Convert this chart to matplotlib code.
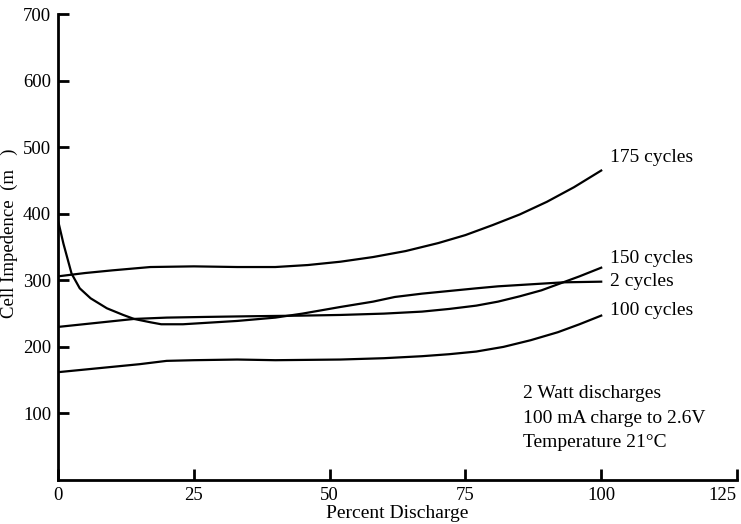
#!/usr/bin/env python3
"""Cell impedance vs percent discharge for several cycle counts."""

import matplotlib

matplotlib.use("Agg")
import matplotlib.pyplot as plt

# percent discharge / impedance
x_175 = [0, 5, 10, 17, 25, 33, 40, 46, 52, 58, 64, 70, 75, 80, 85, 90, 95, 100]
y_175 = [306, 311, 315, 320, 321, 320, 320, 323, 328, 335, 344, 356, 368, 383, 399, 418, 440, 465]

x_150 = [0, 7, 14, 20, 27, 35, 45, 52, 60, 67, 72, 77, 81, 85, 89, 93, 96, 100]
y_150 = [230, 236, 242, 244, 245, 246, 247, 248, 250, 253, 257, 262, 268, 276, 285, 297, 306, 319]

x_2 = [0, 1, 2.5, 4, 6, 9, 12, 14, 17, 19, 23, 27, 33, 40, 45, 52, 58, 62, 67, 72, 77, 81, 87, 93, 100]
y_2 = [390, 355, 310, 288, 273, 258, 248, 242, 237, 234, 234, 236, 239, 244, 250, 260, 268, 275, 280, 284, 288, 291, 294, 297, 298]

x_100 = [0, 5, 10, 15, 20, 25, 33, 40, 52, 60, 67, 72, 77, 82, 87, 92, 96, 100]
y_100 = [162, 166, 170, 174, 179, 180, 181, 180, 181, 183, 186, 189, 193, 200, 210, 222, 234, 247]

series_labels = ["175 cycles", "150 cycles", "2 cycles", "100 cycles"]
label_y = [485, 333, 298, 255]

note_lines = ["2 Watt discharges", "100 mA charge to 2.6V", "Temperature 21\u00b0C"]
note_y = [130, 92, 56]

x_ticks = [0, 25, 50, 75, 100, 125]
y_ticks = [100, 200, 300, 400, 500, 600, 700]

plt.rcParams["font.family"] = ["Liberation Serif", "DejaVu Serif"]

fig = plt.figure(figsize=(7.41, 5.24), dpi=100)
ax = fig.add_axes([0.0783, 0.084, 0.9163, 0.889])

for xs, ys in [(x_175, y_175), (x_150, y_150), (x_2, y_2), (x_100, y_100)]:
    ax.plot(xs, ys, color="black", linewidth=1.6, solid_joinstyle="round")

for lab, ly in zip(series_labels, label_y):
    ax.text(101.6, ly, lab, fontsize=14, ha="left", va="center")

for line, ny in zip(note_lines, note_y):
    ax.text(85.6, ny, line, fontsize=14, ha="left", va="center")

ax.set_xlim(0, 125)
ax.set_ylim(0, 700)
ax.set_xticks(x_ticks)
ax.set_yticks(y_ticks)
ax.tick_params(direction="in", length=8, width=2, labelsize=13.5, pad=5)
# last label sits at the figure edge, keep it inside
ax.get_xticklabels()[-1].set_horizontalalignment("right")
ax.get_xticklabels()[-1].set_x(125.8)

for side in ["top", "right"]:
    ax.spines[side].set_visible(False)
for side in ["left", "bottom"]:
    ax.spines[side].set_linewidth(2)

ax.set_xlabel("Percent Discharge", fontsize=14, labelpad=1)
ax.set_ylabel("Cell Impedence  (m   )", fontsize=13.5)
ax.yaxis.set_label_coords(-0.059, 0.53)

fig.savefig("out.png", dpi=100)
